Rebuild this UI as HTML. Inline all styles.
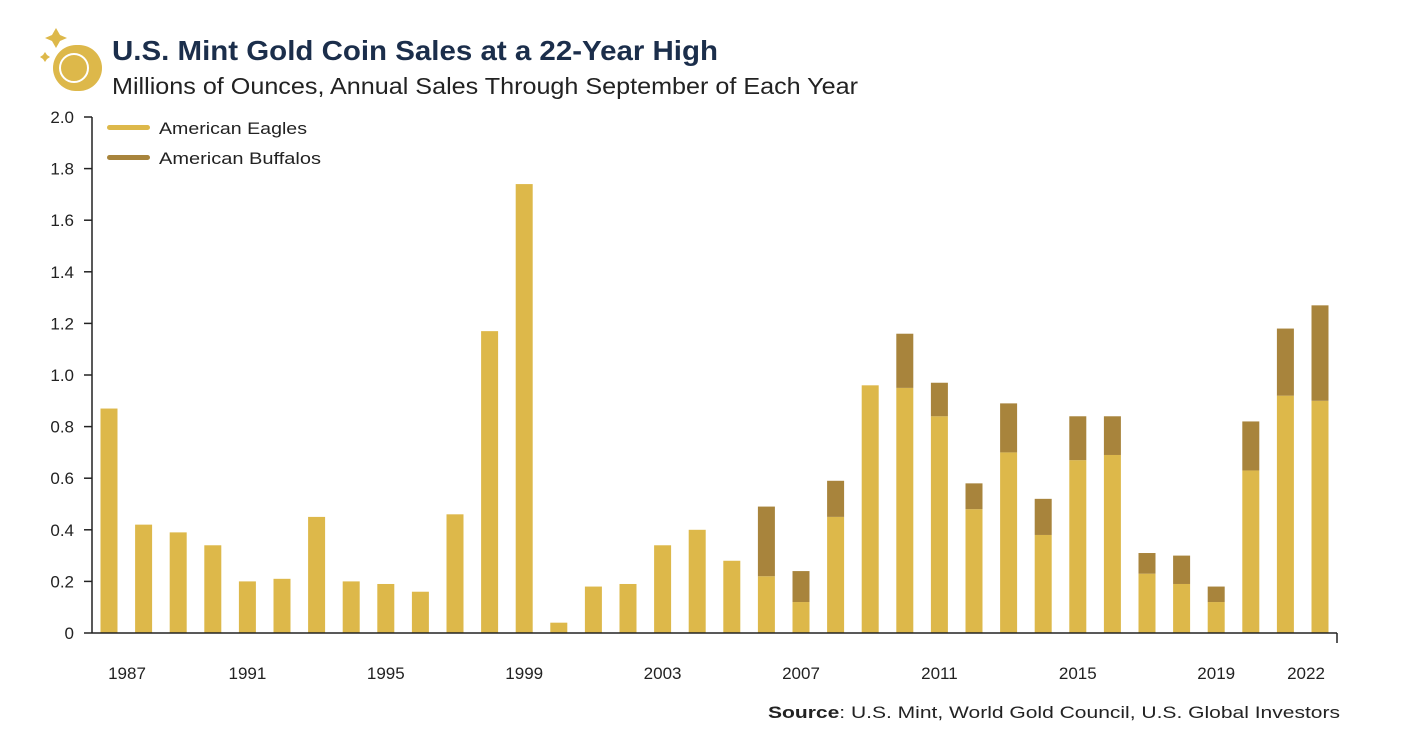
<!DOCTYPE html>
<html><head><meta charset="utf-8"><style>
body{margin:0;background:#fff;width:1418px;height:746px;overflow:hidden;font-family:"Liberation Sans",sans-serif}
</style></head><body>
<svg width="1418" height="746" xmlns="http://www.w3.org/2000/svg">
<g>
<path d="M56 28 L60 35 L67 38 L60 41 L56 48 L52 41 L45 38 L52 35Z" fill="#DDB84A"/>
<path d="M45 52 L47 55 L50 57 L47 59 L45 62 L43 59 L40 57 L43 55Z" fill="#DDB84A"/>
<circle cx="79" cy="68" r="23" fill="#DDB84A"/>
<circle cx="76" cy="68" r="23" fill="#DDB84A"/>
<circle cx="74" cy="68" r="14" fill="none" stroke="#fff" stroke-width="2"/>
</g>
<text x="112" y="60" font-size="28" font-weight="bold" fill="#1B2E4B" textLength="606" lengthAdjust="spacingAndGlyphs">U.S. Mint Gold Coin Sales at a 22-Year High</text>
<text x="112" y="94" font-size="23" fill="#222" textLength="746" lengthAdjust="spacingAndGlyphs">Millions of Ounces, Annual Sales Through September of Each Year</text>
<g id="yaxis"></g>
<g id="bars"></g>
<g id="xaxis"></g>
<g>
<g><rect x="107" y="125" width="43" height="5" rx="2.5" fill="#DDB84A"/><text x="159" y="134" font-size="17" fill="#222" textLength="148" lengthAdjust="spacingAndGlyphs">American Eagles</text></g>
<g><rect x="107" y="155" width="43" height="5" rx="2.5" fill="#A8843C"/><text x="159" y="164" font-size="17" fill="#222" textLength="162" lengthAdjust="spacingAndGlyphs">American Buffalos</text></g>
</g>
<text x="768" y="718" font-size="17" fill="#222" textLength="572" lengthAdjust="spacingAndGlyphs"><tspan font-weight="bold">Source</tspan>: U.S. Mint, World Gold Council, U.S. Global Investors</text>
</svg>
<script>
const years=[1987,1988,1989,1990,1991,1992,1993,1994,1995,1996,1997,1998,1999,2000,2001,2002,2003,2004,2005,2006,2007,2008,2009,2010,2011,2012,2013,2014,2015,2016,2017,2018,2019,2020,2021,2022];
const eagles=[0.87,0.42,0.39,0.34,0.20,0.21,0.45,0.20,0.19,0.16,0.46,1.17,1.74,0.04,0.18,0.19,0.34,0.40,0.28,0.22,0.12,0.45,0.96,0.95,0.84,0.48,0.70,0.38,0.67,0.69,0.23,0.19,0.12,0.63,0.92,0.90];
const buffalos=[0,0,0,0,0,0,0,0,0,0,0,0,0,0,0,0,0,0,0,0.27,0.12,0.14,0,0.21,0.13,0.10,0.19,0.14,0.17,0.15,0.08,0.11,0.06,0.19,0.26,0.37];
const yTicks=[0,0.2,0.4,0.6,0.8,1.0,1.2,1.4,1.6,1.8,2.0];
const xLabels=[1987,1991,1995,1999,2003,2007,2011,2015,2019,2022];
const NS="http://www.w3.org/2000/svg";
const y0=633,yTop=117,x1=109,step=34.6,bw=17;
const ys=v=>y0-(v/2)*(y0-yTop);
const xs=i=>x1+i*step;
function mk(t,a,p){const e=document.createElementNS(NS,t);for(const k in a)e.setAttribute(k,a[k]);p.appendChild(e);return e;}
const ya=document.getElementById('yaxis');
mk('line',{x1:92,y1:yTop,x2:92,y2:y0,stroke:'#222','stroke-width':1.5},ya);
yTicks.forEach(v=>{const y=ys(v);
mk('line',{x1:84,y1:y,x2:92,y2:y,stroke:'#222','stroke-width':1.5},ya);
const t=mk('text',{x:74,y:y+6,'font-size':17,'text-anchor':'end',fill:'#222'},ya);


t.textContent=v===0?'0':v.toFixed(1);});
const bg=document.getElementById('bars');
years.forEach((yr,i)=>{const cx=xs(i);
const r=mk('rect',{x:cx-bw/2,y:ys(eagles[i]),width:bw,height:y0-ys(eagles[i]),fill:'#DDB84A'},bg);


if(buffalos[i]>0){const tot=eagles[i]+buffalos[i];
const b=mk('rect',{x:cx-bw/2,y:ys(tot),width:bw,height:ys(eagles[i])-ys(tot),fill:'#A8843C'},bg);

}});
const xa=document.getElementById('xaxis');
mk('line',{x1:92,y1:y0,x2:1337,y2:y0,stroke:'#222','stroke-width':1.5},xa);
mk('line',{x1:1337,y1:y0,x2:1337,y2:y0+10,stroke:'#222','stroke-width':1.5},xa);
xLabels.forEach(yr=>{const i=years.indexOf(yr);let x=xs(i);if(yr===1987)x+=18;if(yr===2022)x-=14;
const t=mk('text',{x:x,y:679,'font-size':17,'text-anchor':'middle',fill:'#222'},xa);


t.textContent=yr;});
</script>
</body></html>
